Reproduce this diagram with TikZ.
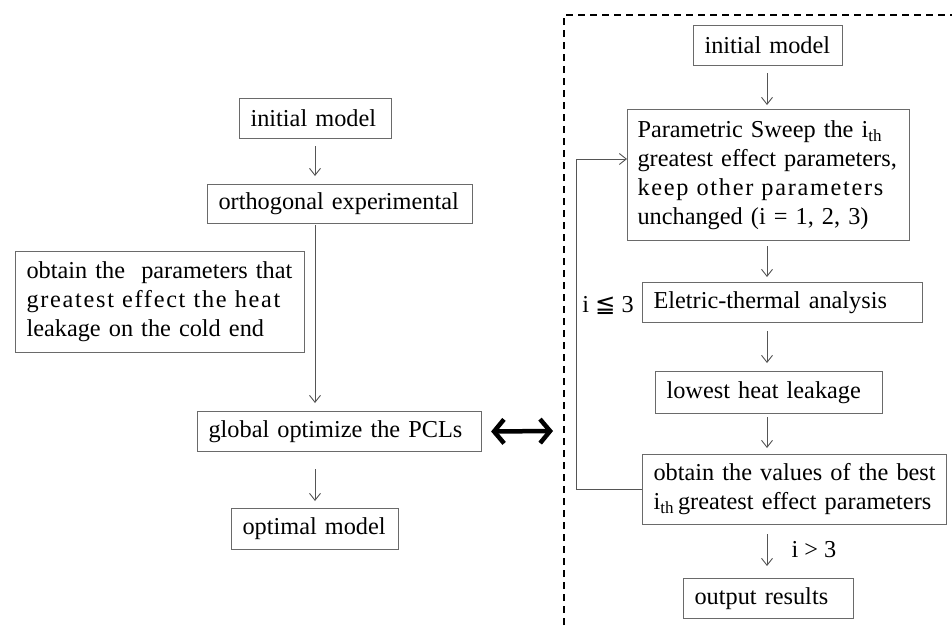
\documentclass[tikz,border=0pt]{standalone}
\usepackage{fontspec}
\setmainfont{Liberation Serif}
\newfontfamily\symf{DejaVu Sans}
\usetikzlibrary{arrows.meta}
\definecolor{boxc}{HTML}{6A6A6A}
\definecolor{linec}{HTML}{555555}
\newcommand{\fs}{\fontsize{24.3}{29}\selectfont}
\newcommand{\fl}[1]{\makebox[\linewidth][s]{#1}}
\tikzset{
  box/.style={draw=boxc, line width=1.1pt, inner xsep=11pt, inner ysep=0pt, align=left, anchor=north west, font=\fs},
  arr/.style={draw=linec, line width=0.9pt, -{Straight Barb[length=7pt,width=11pt]}},
  dbl/.style={draw=black, line width=4.5pt, {Straight Barb[length=10pt,width=24pt]}-{Straight Barb[length=10pt,width=24pt]}},
  frame/.style={draw=black, line width=1.3pt, dash pattern=on 7pt off 5pt},
  lbl/.style={font=\fs, inner sep=0pt}
}
\begin{document}
\begin{tikzpicture}[x=1pt,y=-1pt]
\useasboundingbox[fill=white] (0,0) rectangle (952,625);
% left column
\node[box, text width=130pt, minimum height=40pt] (linit) at (239,98) {\mbox{initial model}};
\node[box, text width=243pt, minimum height=39pt] (ortho) at (207,184) {\mbox{orthogonal experimental}};
\node[box, text width=267pt, minimum height=101pt] (obt) at (15,251) {\fl{obtain the\ \ parameters that}\\{\addfontfeature{LetterSpace=7}\fl{greatest effect the heat}}\\\mbox{leakage on the cold end}};
\node[box, text width=262pt, minimum height=40pt] (glob) at (197,411) {\mbox{global optimize the PCLs}};
\node[box, text width=145pt, minimum height=41pt] (opt) at (231,508) {\mbox{optimal model}};
\coordinate (lx) at (315,0);
\draw[arr, shorten <=7pt, shorten >=8pt] (linit.south -| lx) -- (ortho.north -| lx);
\draw[arr, shorten <=1pt, shorten >=8pt] (ortho.south -| lx) -- (glob.north -| lx);
\draw[arr, shorten <=17pt, shorten >=7pt] (glob.south -| lx) -- (opt.north -| lx);
\coordinate (dr) at (553,431);
\draw[dbl, shorten <=9pt] (glob.east) -- (dr);
% frame
\coordinate (fb) at (564,625);
\coordinate (fc) at (564,15);
\coordinate (fr) at (952,15);
\draw[frame] (fb) -- (fc) -- (fr);
% right column
\node[box, text width=127pt, minimum height=40pt] (rinit) at (693,25) {\mbox{initial model}};
\node[box, inner xsep=10pt, text width=262pt, minimum height=131pt] (param) at (627,109) {\fl{Parametric Sweep the i\textsubscript{th}}\\\fl{greatest effect parameters,}\\{\addfontfeature{LetterSpace=7}\fl{keep other parameters}}\\\mbox{unchanged (i = 1, 2, 3)}};
\node[box, text width=258pt, minimum height=40pt] (elec) at (642,282) {\mbox{Eletric-thermal analysis}};
\node[box, text width=205pt, minimum height=42pt] (low) at (655,371) {\mbox{lowest heat leakage}};
\node[box, text width=282pt, minimum height=70pt] (vals) at (642,454) {\fl{obtain the values of the best}\\\fl{i\textsubscript{th}\,greatest effect parameters}};
\node[box, text width=148pt, minimum height=40pt] (out) at (683,578) {\mbox{output results}};
\coordinate (rx) at (767,0);
\draw[arr, shorten <=7pt, shorten >=4pt] (rinit.south -| rx) -- (param.north -| rx);
\draw[arr, shorten <=5pt, shorten >=5pt] (param.south -| rx) -- (elec.north -| rx);
\draw[arr, shorten <=8pt, shorten >=8pt] (elec.south -| rx) -- (low.north -| rx);
\draw[arr, shorten <=3pt, shorten >=6pt] (low.south -| rx) -- (vals.north -| rx);
\draw[arr, shorten <=9pt, shorten >=12pt] (vals.south -| rx) -- (out.north -| rx);
\coordinate (lt) at (576,159);
\draw[arr] (vals.west) -- (vals.west -| lt) -- (lt) -- (lt -| param.west);
\node[lbl] (le) at (608,305) {i {\symf ≦} 3};
\node[lbl] (gt) at (814,550) {i > 3};
\end{tikzpicture}
\end{document}
